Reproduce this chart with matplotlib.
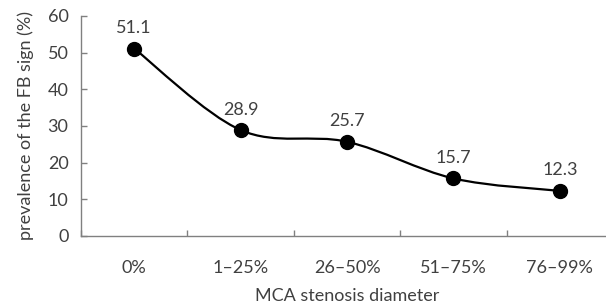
import numpy as np
import matplotlib.pyplot as plt
from matplotlib.path import Path
from matplotlib.patches import PathPatch

categories = ["0%", "1\u201325%", "26\u201350%", "51\u201375%", "76\u201399%"]
prevalence = [51.1, 28.9, 25.7, 15.7, 12.3]

plt.rcParams['font.family'] = ['Lato', 'DejaVu Sans']
text_color = '#404040'
axis_color = '#808080'
fs = 13


def smooth_path(xs, ys):
    # Catmull-Rom style bezier, like a spreadsheet "smoothed line"
    pts = np.column_stack([xs, ys]).astype(float)
    verts = [pts[0]]
    codes = [Path.MOVETO]
    n = len(pts)
    for i in range(n - 1):
        p0 = pts[max(i - 1, 0)]
        p1 = pts[i]
        p2 = pts[i + 1]
        p3 = pts[min(i + 2, n - 1)]
        c1 = p1 + (p2 - p0) / 6.0
        c2 = p2 - (p3 - p1) / 6.0
        verts += [c1, c2, p2]
        codes += [Path.CURVE4] * 3
    return Path(verts, codes)


fig = plt.figure(figsize=(6.06, 3.07), dpi=100)
ax = fig.add_axes([0.1337, 0.2313, 0.878, 0.7166])

x = np.arange(len(categories))
ax.add_patch(PathPatch(smooth_path(x, prevalence), facecolor='none',
                       edgecolor='black', linewidth=1.6, zorder=2))
ax.plot(x, prevalence, linestyle='none', marker='o', markersize=10,
        color='black', zorder=3)

for xi, v in zip(x, prevalence):
    ax.annotate(f"{v:.1f}", (xi, v), xytext=(0, 9), textcoords='offset points',
                ha='center', va='bottom', fontsize=fs, color=text_color)

ax.set_xlim(-0.5, len(categories) - 0.5)
ax.set_ylim(0, 60)
ax.set_yticks(range(0, 61, 10))
ax.set_xticks(x)
ax.set_xticklabels(categories)
ax.set_xticks(np.arange(-0.5, len(categories), 1.0), minor=True)

ax.tick_params(axis='x', which='major', length=0, pad=17, labelsize=fs,
               labelcolor=text_color)
ax.tick_params(axis='x', which='minor', direction='in', length=4.5,
               color=axis_color, width=1)
ax.tick_params(axis='y', direction='in', length=4.5, color=axis_color,
               width=1, pad=9, labelsize=fs, labelcolor=text_color)

for side in ['top', 'right']:
    ax.spines[side].set_visible(False)
for side in ['left', 'bottom']:
    ax.spines[side].set_color(axis_color)
    ax.spines[side].set_linewidth(1)

ax.set_xlabel("MCA stenosis diameter", fontsize=fs, color=text_color, labelpad=9)
ax.set_ylabel("prevalence of the FB sign (%)", fontsize=fs, color=text_color,
              labelpad=10)

fig.savefig("out.png", dpi=100)
